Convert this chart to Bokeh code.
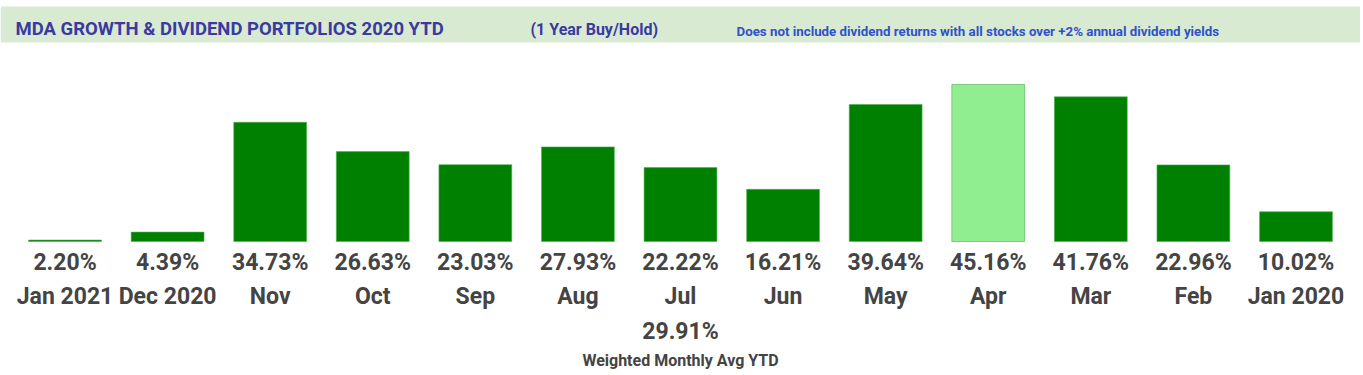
from bokeh.plotting import figure
from bokeh.models import FactorRange, Range1d, BoxAnnotation, Label, ColumnDataSource
from bokeh.core.properties import value
from bokeh.embed import file_html
from bokeh.resources import INLINE

# ---- data ----
months = ["Jan 2021", "Dec 2020", "Nov", "Oct", "Sep", "Aug", "Jul",
          "Jun", "May", "Apr", "Mar", "Feb", "Jan 2020"]
returns = [2.20, 4.39, 34.73, 26.63, 23.03, 27.93, 22.22,
           16.21, 39.64, 45.16, 41.76, 22.96, 10.02]
highlight = "Apr"
avg_label_month = "Jul"
weighted_avg = 29.91

title_text = "MDA GROWTH & DIVIDEND PORTFOLIOS 2020 YTD"
sub1_text = "(1 Year Buy/Hold)"
sub2_text = "Does not include dividend returns with all stocks over +2% annual dividend yields"
avg_caption = "Weighted Monthly Avg YTD"

# ---- layout helpers ----
W, H = 1360, 372
BASE_VAL = 1.8          # value at bar baseline
PX_PER_UNIT = 3.62
BASE_PIX = 241          # baseline distance from figure top (px)

def yv(pix_from_top):
    return BASE_VAL + (BASE_PIX - pix_from_top) / PX_PER_UNIT

y_top = yv(0)
y_bot = yv(H)

pad = (W / 102.58 - len(months)) / 2

p = figure(width=W, height=H, output_backend="svg", toolbar_location=None,
           x_range=FactorRange(*months, range_padding=pad, range_padding_units="absolute"),
           y_range=Range1d(y_bot, y_top),
           min_border=0, min_border_left=0, min_border_right=0,
           min_border_top=0, min_border_bottom=0)
p.axis.visible = False
p.grid.visible = False
p.outline_line_color = None
p.background_fill_color = "white"
p.border_fill_color = "white"

# header band
p.add_layout(BoxAnnotation(bottom=yv(42), top=yv(6), fill_color="#d9ead3", fill_alpha=1.0,
                           line_color=None, level="underlay"))

colors = ["#90ee90" if m == highlight else "#008000" for m in months]
src = ColumnDataSource(dict(
    m=months, v=returns, c=colors,
    lab=[f"{v:.2f}%" for v in returns],
    ly=[yv(262)] * len(months),
    my=[yv(296)] * len(months),
))
p.vbar(x="m", top="v", bottom=BASE_VAL, width=0.71, source=src,
       fill_color="c", line_color="#4caf50", line_width=1, line_alpha=0.6)

p.text(x="m", y="ly", text="lab", source=src, text_align="center", text_baseline="middle",
       text_font=value("Roboto"), text_font_style="bold", text_font_size="23px",
       text_color="#444444")
p.text(x="m", y="my", text="m", source=src, text_align="center", text_baseline="middle",
       text_font=value("Roboto"), text_font_style="bold", text_font_size="23px",
       text_color="#444444")

p.text(x=[avg_label_month], y=[yv(331)], text=[f"{weighted_avg:.2f}%"],
       text_align="center", text_baseline="middle",
       text_font=value("Roboto"), text_font_style="bold", text_font_size="23px",
       text_color="#444444")
p.text(x=[avg_label_month], y=[yv(360)], text=[avg_caption],
       text_align="center", text_baseline="middle",
       text_font=value("Roboto"), text_font_style="bold", text_font_size="16px",
       text_color="#444444")

# header texts
p.add_layout(Label(x=15, x_units="screen", y=yv(28), text=title_text,
                   text_baseline="middle", text_font="Roboto", text_font_style="bold",
                   text_font_size="18.5px", text_color="#3a3aa0"))
p.add_layout(Label(x=530, x_units="screen", y=yv(29), text=sub1_text,
                   text_baseline="middle", text_font="Roboto", text_font_style="bold",
                   text_font_size="16px", text_color="#3a3aa0"))
p.add_layout(Label(x=736, x_units="screen", y=yv(31), text=sub2_text,
                   text_baseline="middle", text_font="Roboto", text_font_style="bold",
                   text_font_size="13.3px", text_color="#2f52c8"))

open("out.html", "w").write(file_html(p, INLINE))
